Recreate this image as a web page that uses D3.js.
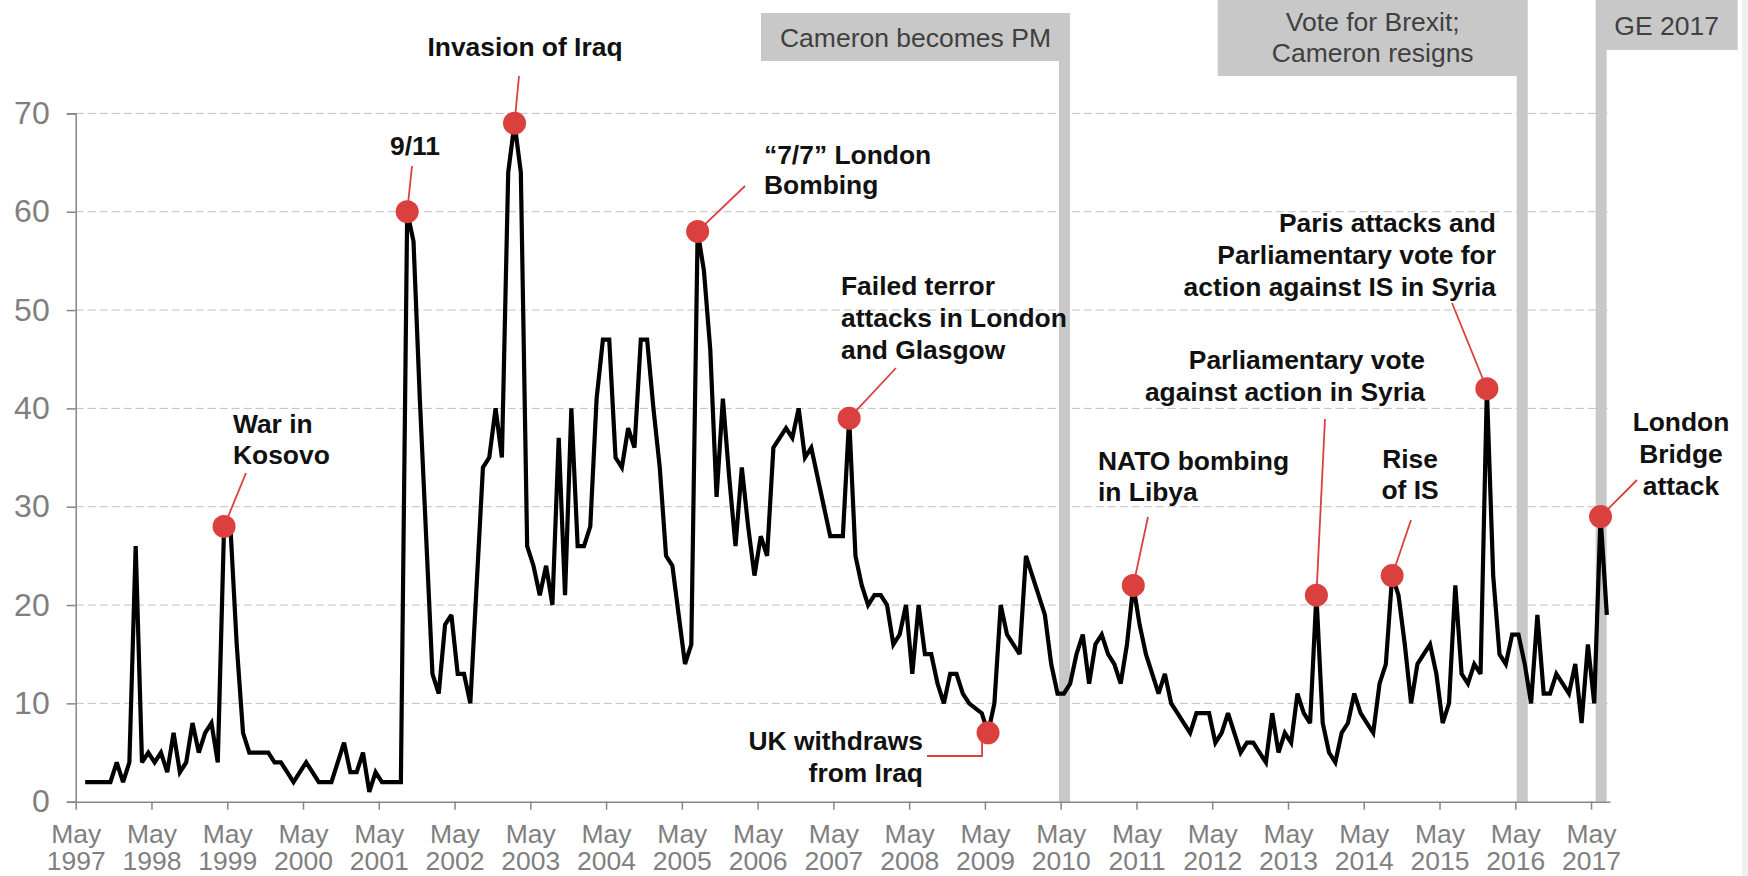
<!DOCTYPE html>
<html><head><meta charset="utf-8">
<script src="https://cdn.jsdelivr.net/npm/d3@7"></script>
<style>
body{margin:0;background:#fff}
svg{display:block;font-family:"Liberation Sans",Arial,Helvetica,sans-serif}
</style>
</head><body>
<svg id="chart" width="1748" height="876"></svg>
<script>
// ---- DATA ----
// months counted from May 1997 (0); first value is June 1997 (1), monthly to July 2017
const firstMonth = 1;
const values = [
 2,2,2,2,2,4,2,4,26,4,
 5,4,5,3,7,3,4,8,5,7,
 8,4,28,28,16,7,5,5,5,5,
 4,4,3,2,3,4,3,2,2,2,
 4,6,3,3,5,1,3,2,2,2,
 2,60,57,41,27,13,11,18,19,13,
 13,10,22,34,35,40,35,64,69,64,
 26,24,21,24,20,37,21,40,26,26,
 28,41,47,47,35,34,38,36,47,47,
 40,34,25,24,19,14,16,58,54,46,
 31,41,33,26,34,28,23,27,25,36,
 37,38,37,40,35,36,33,30,27,27,
 27,39,25,22,20,21,21,20,16,17,
 20,13,20,15,15,12,10,13,13,11,
 10,9.5,9,7,10,20,17,16,15,25,
 23,21,19,14,11,11,12,15,17,12,
 16,17,15,14,12,16,22,18,15,13,
 11,13,10,9,8,7,9,9,9,6,
 7,9,7,5,6,6,5,4,9,5,
 7,6,11,9,8,21,8,5,4,7,
 8,11,9,8,7,12,14,23,21,16,
 10,14,15,16,13,8,10,22,13,12,
 14,13,42,23,15,14,17,17,14,10,
 19,11,11,13,12,11,14,8,16,10,
 29,19
];
const tickYears = d3.range(1997, 2018);
const tickMonthName = "May";
const yTicks = [0,10,20,30,40,50,60,70];

// events marked with a red dot (month index from May 1997)
const eventMonths = [23, 52, 69, 98, 122, 144, 167, 196, 208, 223, 241];
const eventLabels = [
  ["War in","Kosovo"],
  ["9/11"],
  ["Invasion of Iraq"],
  ["\u201C7/7\u201D London","Bombing"],
  ["Failed terror","attacks in London","and Glasgow"],
  ["UK withdraws","from Iraq"],
  ["NATO bombing","in Libya"],
  ["Parliamentary vote","against action in Syria"],
  ["Rise","of IS"],
  ["Paris attacks and","Parliamentary vote for","action against IS in Syria"],
  ["London","Bridge","attack"]
];

// political markers (month index from May 1997)
const periodMonths = [156.6, 229.1, 241.6];
const periodLabels = [["Cameron becomes PM"], ["Vote for Brexit;","Cameron resigns"], ["GE 2017"]];

// ---- LAYOUT ----
const svg = d3.select("#chart");
const x = d3.scaleLinear().domain([0, 243]).range([75.7, 1610]);
const y = d3.scaleLinear().domain([0, 70]).range([801.7, 113.4]);
const series = values.map((v, i) => ({m: firstMonth + i, v}));
const px = m => x(m + 0.5);

svg.append("rect").attr("x",1742).attr("y",0).attr("width",6).attr("height",876).attr("fill","#f0f0f0");

// gridlines
svg.append("g").selectAll("line").data(yTicks.filter(d => d > 0)).join("line")
  .attr("x1", x(0)).attr("x2", x(243))
  .attr("y1", d => y(d)).attr("y2", d => y(d))
  .attr("stroke", "#bfbfbf").attr("stroke-width", 1).attr("stroke-dasharray", "8,4");

// period bars and boxes
const boxSpec = [
  {w: 309, side: "left", top: 13, bottom: 61, base: 47},
  {w: 310, side: "left", top: 0, bottom: 76, base: 31},
  {w: 142, side: "right", top: 0, bottom: 50, base: 35}
];
const barW = 11;
periodMonths.forEach((pm, i) => {
  const cx = x(pm), s = boxSpec[i];
  const bx0 = cx - barW/2, bx1 = cx + barW/2;
  svg.append("rect").attr("x", bx0).attr("y", s.bottom).attr("width", barW)
    .attr("height", y(0) - s.bottom).attr("fill", "#c8c8c8");
  const left = s.side === "left" ? bx1 - s.w : bx0;
  svg.append("rect").attr("x", left).attr("y", s.top).attr("width", s.w)
    .attr("height", s.bottom - s.top).attr("fill", "#c8c8c8");
  const t = svg.append("text").attr("x", left + s.w/2).attr("y", s.base)
    .attr("text-anchor","middle").attr("font-size", 26.5).attr("fill","#404040");
  periodLabels[i].forEach((ln, k) => t.append("tspan").attr("x", left + s.w/2).attr("dy", k ? 31 : 0).text(ln));
});

// axes
const yAxis = svg.append("g").attr("transform", `translate(${x(0)},0)`)
  .call(d3.axisLeft(y).tickValues(yTicks).tickSize(9).tickPadding(17));
yAxis.select(".domain").attr("stroke", "#868686").attr("stroke-width", 1.5);
yAxis.selectAll(".tick line").attr("stroke", "#868686").attr("stroke-width", 1.5);
yAxis.selectAll(".tick text").attr("font-size", 32).attr("fill", "#7f7f7f")
  .attr("font-family", "Liberation Sans, Arial, sans-serif");

const xAxis = svg.append("g").attr("transform", `translate(0,${y(0)})`)
  .call(d3.axisBottom(x).tickValues(tickYears.map((yr, i) => i * 12)).tickSize(8).tickSizeOuter(0).tickFormat(""));
xAxis.select(".domain").attr("stroke", "#868686").attr("stroke-width", 1.5);
xAxis.selectAll(".tick line").attr("stroke", "#868686").attr("stroke-width", 1.5);
xAxis.selectAll(".tick").each(function(d, i) {
  const t = d3.select(this).append("text").attr("fill", "#7f7f7f").attr("font-size", 26.5)
    .attr("text-anchor", "middle").attr("font-family", "Liberation Sans, Arial, sans-serif");
  t.append("tspan").attr("x", 0).attr("y", 41).text(tickMonthName);
  t.append("tspan").attr("x", 0).attr("y", 68.5).text(tickYears[i]);
});

// line
svg.append("path").datum(series)
  .attr("d", d3.line().x(d => px(d.m)).y(d => y(d.v)))
  .attr("fill", "none").attr("stroke", "#000").attr("stroke-width", 4.2)
  .attr("stroke-linejoin", "miter").attr("stroke-miterlimit", 3);

// annotations: text position + leader end (layout)
const annSpec = [
  {tx: 233, ty: 433, anchor: "start", lh: 31, lead: [[246, 473]]},
  {tx: 415, ty: 155, anchor: "middle", lh: 31, lead: [[412, 166]]},
  {tx: 525, ty: 56, anchor: "middle", lh: 31, lead: [[519, 76]]},
  {tx: 764, ty: 164, anchor: "start", lh: 30, lead: [[745, 186]]},
  {tx: 841, ty: 295, anchor: "start", lh: 32, lead: [[896, 368]]},
  {tx: 923, ty: 750, anchor: "end", lh: 32, lead: "elbow"},
  {tx: 1098, ty: 470, anchor: "start", lh: 31, lead: [[1148, 517]]},
  {tx: 1425, ty: 369, anchor: "end", lh: 32, lead: [[1325, 419]]},
  {tx: 1410, ty: 468, anchor: "middle", lh: 31, lead: [[1411, 520]]},
  {tx: 1496, ty: 232, anchor: "end", lh: 32, lead: [[1452, 303]]},
  {tx: 1681, ty: 431, anchor: "middle", lh: 32, lead: [[1637, 480]]}
];
const red = "#d9403e";
eventMonths.forEach((em, i) => {
  const v = series.find(d => d.m === em).v;
  const cx = px(em), cy = y(v), s = annSpec[i];
  let d;
  if (s.lead === "elbow") d = `M${927},${756}H${cx - 6}V${cy}`;
  else d = `M${cx},${cy}L${s.lead[0][0]},${s.lead[0][1]}`;
  svg.append("path").attr("d", d).attr("fill", "none").attr("stroke", red).attr("stroke-width", 1.8);
  const t = svg.append("text").attr("x", s.tx).attr("y", s.ty).attr("text-anchor", s.anchor)
    .attr("font-size", 26.4).attr("font-weight", "bold").attr("fill", "#111");
  eventLabels[i].forEach((ln, k) => t.append("tspan").attr("x", s.tx).attr("dy", k ? s.lh : 0).text(ln));
});
// markers on top
svg.append("g").selectAll("circle").data(eventMonths).join("circle")
  .attr("cx", m => px(m)).attr("cy", m => y(series.find(d => d.m === m).v))
  .attr("r", 11.5).attr("fill", red);
</script>
</body></html>
